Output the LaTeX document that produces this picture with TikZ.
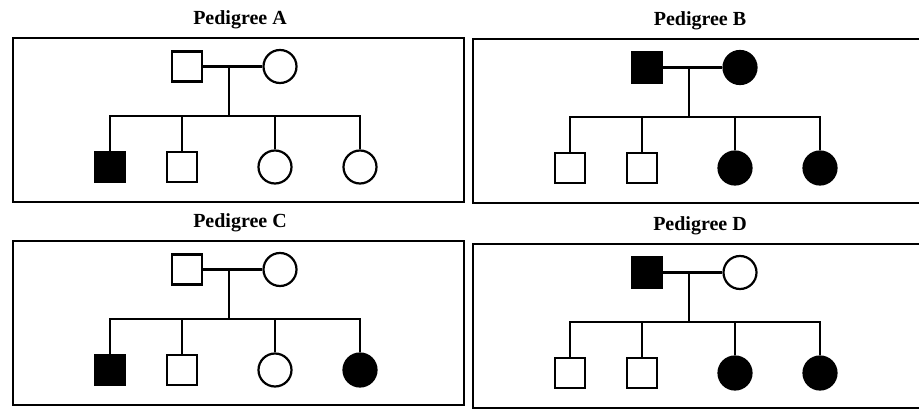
\documentclass[tikz,border=0pt]{standalone}
\usepackage{fontspec}
\setmainfont{Liberation Serif}
\usetikzlibrary{positioning}
\tikzset{
	panel/.style={draw, line width=1.8pt, inner sep=0pt},
	male/.style={draw, rectangle, line width=2.2pt, minimum size=30pt, inner sep=0pt},
	female/.style={draw, circle, line width=2.2pt, minimum size=33pt, inner sep=0pt},
	kin/.style={line width=2.2pt},
	title/.style={font=\fontsize{20}{22}\selectfont\bfseries},
}
% #1 name, #2 width, #3 title, #4 #5 parents, #6-#9 children
\newcommand{\pedigree}[9]{%
	\node[panel, minimum width=#2pt, minimum height=164pt, anchor=north west] at (0,0) (#1box) {};
	\node[title] at (228,-17) (#1title) {#3};
	\node[male, fill=#4] at (175,29.5) (#1fa) {};
	\node[female, fill=#5] at (268,29.5) (#1mo) {};
	\coordinate (#1top) at (217,29.5);
	\coordinate (#1bar) at (217,79);
	\draw[kin] (#1fa) -- (#1mo);
	\draw[kin] (#1top) -- (#1bar);
	\foreach \x/\f/\s/\n in {98/#6/male/a, 170/#7/male/b, 263/#8/female/c, 348/#9/female/d}{
		\node[\s, fill=\f] at (\x,130) (#1\n) {};
		\draw[kin] (#1\n.north) |- (#1bar);
	}
}

\begin{document}
\begin{tikzpicture}[x=1pt, y=-1pt]
	\useasboundingbox (0,0) rectangle (919,409);
	\begin{scope}[shift={(12,37)}]
		\pedigree{A}{451}{Pedigree A}{white}{white}{black}{white}{white}{white}
	\end{scope}
	\begin{scope}[shift={(472,38)}]
		\pedigree{B}{460}{Pedigree B}{black}{black}{white}{white}{black}{black}
	\end{scope}
	\begin{scope}[shift={(12,240)}]
		\pedigree{C}{451}{Pedigree C}{white}{white}{black}{white}{white}{black}
	\end{scope}
	\begin{scope}[shift={(472,243)}]
		\pedigree{D}{460}{Pedigree D}{black}{white}{white}{white}{black}{black}
	\end{scope}
\end{tikzpicture}
\end{document}
